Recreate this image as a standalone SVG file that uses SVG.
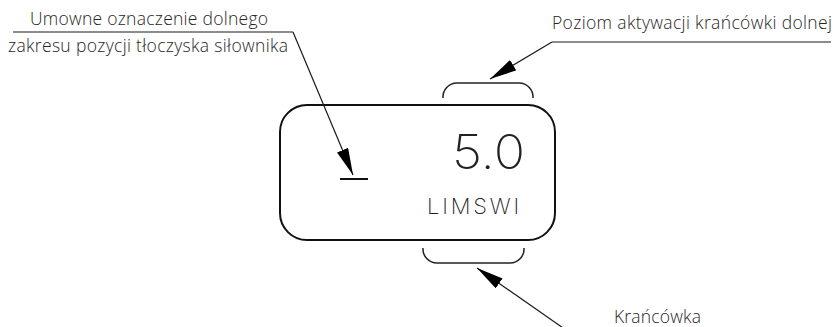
<svg xmlns="http://www.w3.org/2000/svg" width="837" height="327" viewBox="0 0 837 327">
<style>
.lbl{font-family:"Open Sans","Noto Sans","Liberation Sans",sans-serif;font-weight:300;font-size:17.5px;fill:#262626}
.cad{font-family:Inter,"DejaVu Sans","Liberation Sans",sans-serif;font-weight:200;fill:#222}
.ln{stroke:#1a1a1a;stroke-width:1.2;fill:none}
.bx{stroke:#111;stroke-width:2;fill:none}
.br{stroke:#222;stroke-width:1.5;fill:none}
</style>
<defs>
<marker id="ah" viewBox="0 0 27 12" refX="27" refY="6" markerWidth="27" markerHeight="12" markerUnits="userSpaceOnUse" orient="auto">
<path d="M0,0 L27,6 L0,12 Z" fill="#000"/>
</marker>
</defs>
<rect width="837" height="327" fill="#fff"/>
<g id="display">
<rect class="bx" x="280" y="105" width="275" height="135" rx="27" ry="27"/>
<text class="cad" x="452" y="169" font-size="48" textLength="73" lengthAdjust="spacingAndGlyphs">5.0</text>
<text class="cad" x="427" y="214" font-size="22" textLength="92" lengthAdjust="spacing">LIMSWI</text>
<line x1="340" y1="179" x2="368" y2="179" stroke="#111" stroke-width="2"/>
</g>
<g id="upper-bracket">
<path class="br" d="M443,98 A14,14 0 0 1 457,83 L519,83 A14,14 0 0 1 533,98"/>
</g>
<g id="lower-bracket">
<path class="br" d="M423,248 A14,14 0 0 0 437,263 L510,263 A14,14 0 0 0 524,248"/>
</g>
<g id="label-lower-range">
<text class="lbl" x="30" y="25" textLength="238" lengthAdjust="spacing">Umowne oznaczenie dolnego</text>
<line class="ln" x1="13" y1="32" x2="293" y2="32"/>
<text class="lbl" x="8" y="52" textLength="280" lengthAdjust="spacing">zakresu pozycji tłoczyska siłownika</text>
</g>
<g id="label-activation">
<text class="lbl" x="552" y="29" textLength="280" lengthAdjust="spacing">Poziom aktywacji krańcówki dolnej</text>
<line class="ln" x1="552" y1="42" x2="831" y2="42"/>
</g>
<g id="label-limit-switch">
<text class="lbl" x="614" y="323" textLength="87" lengthAdjust="spacing">Krańcówka</text>
</g>
<g id="connectors">
<line class="ln" x1="293" y1="32" x2="353" y2="175" marker-end="url(#ah)"/>
<line class="ln" x1="552" y1="42" x2="490" y2="79" marker-end="url(#ah)"/>
<line class="ln" x1="566" y1="330" x2="477" y2="268" marker-end="url(#ah)"/>
</g>
</svg>
